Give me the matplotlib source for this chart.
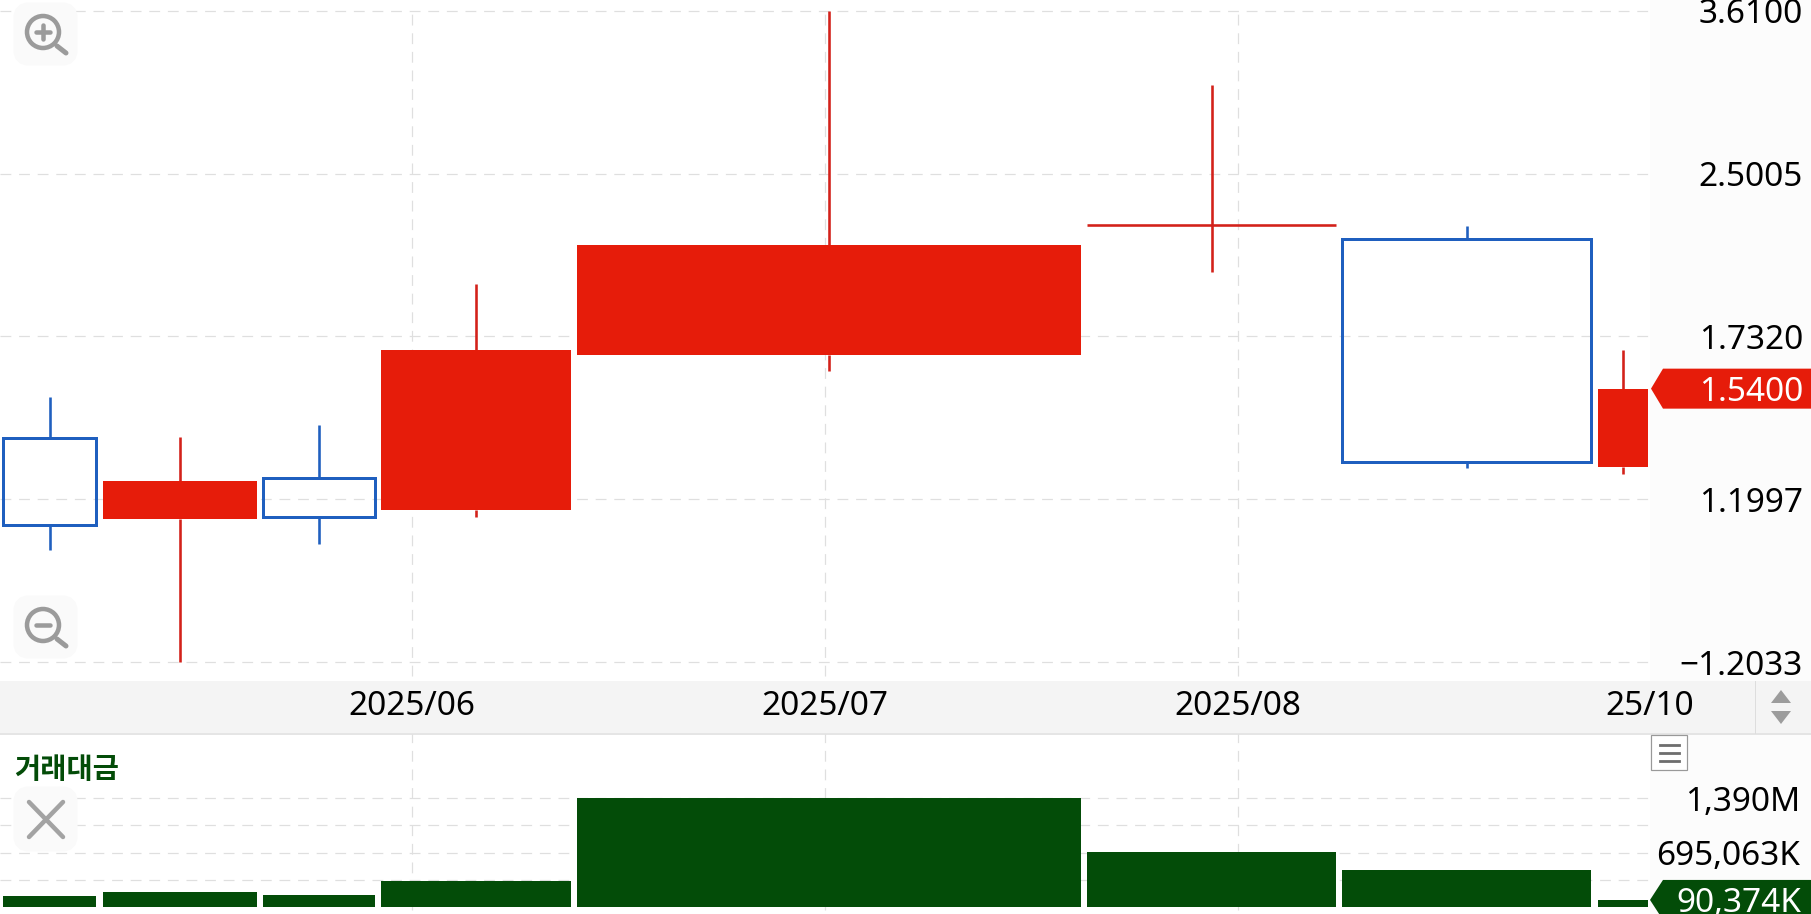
import numpy as np
import matplotlib
matplotlib.use('Agg')
import matplotlib.pyplot as plt
from matplotlib.patches import Circle, FancyBboxPatch, Polygon, Rectangle

plt.rcParams['font.family'] = ['Noto Sans', 'DejaVu Sans']
plt.rcParams['font.weight'] = 'medium'

# candles, x is a running axis where width follows the period traded
x_start = [3, 102.6, 263, 381, 576.5, 1087, 1342, 1597.5]
x_end = [96, 256.8, 374.5, 571.4, 1081, 1336, 1591, 1648]
price_open = [1.3776, 1.1477, 1.2590, 1.171, 1.663, 2.2274, 2.1585, 1.2912]
price_close = [1.133, 1.2506, 1.1541, 1.680, 2.129, 2.2274, 1.305, 1.54]
price_high = [1.511, 1.3795, 1.4187, 1.950, 3.61, 3.052, 2.2205, 1.680]
price_low = [1.070, 0.831, 1.0847, 1.1529, 1.6026, 2.0008, 1.2875, 1.271]
turnover = [140.7, 196, 157, 329, 1390, 697, 477, 90.374]

price_ticks = [3.61, 2.5005, 1.732, 1.1997, 0.831]
price_labels = ['3.6100', '2.5005', '1.7320', '1.1997', '\u22121.2033']
date_ticks = [412, 824.5, 1237.5, 1650]
date_labels = ['2025/06', '2025/07', '2025/08', '25/10']
turnover_ticks = [1390, 1042.5, 695.063, 347.5]
turnover_labels = ['1,390M', '', '695,063K', '']

RED = '#E61C0A'
WICK_RED = '#D3211A'
BLUE = '#1F5FBF'
GREEN = '#034C08'
GRID = '#DFDFDF'
W, H = 1811, 914
PX = 72 / 100  # points per pixel at dpi 100
LABEL_SIZE = 24


def axes_px(left, top, right, bottom):
    return [left / W, 1 - bottom / H, (right - left) / W, (bottom - top) / H]


def tag(ax, tip, shoulder, y, half, color):
    ax.add_patch(Polygon([(tip, y), (shoulder, y - half), (W, y - half), (W, y + half),
                          (shoulder, y + half)], closed=True, fc=color, ec='none', zorder=5))


def magnifier(ax, cx, cy, plus):
    ax.add_patch(FancyBboxPatch((19, cy - 24), 53, 52, boxstyle='round,pad=0,rounding_size=10',
                                fc='#FAFAFA', ec='#FAFAFA', lw=8, zorder=6))
    ax.add_patch(Circle((cx, cy), 16, fc='none', ec='#9B9B9B', lw=4.5 * PX, zorder=7))
    ax.plot([cx - 7, cx + 7], [cy, cy], color='#9B9B9B', lw=4.5 * PX, zorder=7, solid_capstyle='round')
    if plus:
        ax.plot([cx, cx], [cy - 7, cy + 7], color='#9B9B9B', lw=4.5 * PX, zorder=7, solid_capstyle='round')
    ax.plot([cx + 14, cx + 23], [cy + 14, cy + 21], color='#9B9B9B', lw=5 * PX, zorder=7,
            solid_capstyle='round')


fig = plt.figure(figsize=(W / 100, H / 100), dpi=100, facecolor='white')

# chrome underneath the plots
bg = fig.add_axes([0, 0, 1, 1], zorder=0)
bg.set_xlim(0, W)
bg.set_ylim(H, 0)
bg.axis('off')
bg.add_patch(Rectangle((1650, 0), W - 1650, H, fc='#FCFCFC', ec='none'))
bg.add_patch(Rectangle((0, 681), W, 52, fc='#F4F4F4', ec='none'))
bg.plot([0, W], [733.5, 733.5], color='#DDDDDD', lw=1.5 * PX)
bg.plot([0, W], [913.5, 913.5], color='#EEEEEE', lw=1 * PX)
bg.plot([1755, 1755], [681, 733], color='#DDDDDD', lw=1 * PX)

# price pane
ax = fig.add_axes(axes_px(0, 0, 1650, 681), zorder=1)
ax.patch.set_alpha(0)
ax.set_yscale('log')
k = np.log(price_ticks[0] / price_ticks[1]) / 162.75
ax.set_ylim(price_ticks[0] * np.exp(-669.5 * k), price_ticks[0] * np.exp(10.5 * k))
ax.set_xlim(0, 1650)
for s in ax.spines.values():
    s.set_visible(False)

for i in range(len(x_start)):
    mid = (x_start[i] + x_end[i]) / 2
    top = max(price_open[i], price_close[i])
    bot = min(price_open[i], price_close[i])
    up = price_close[i] >= price_open[i]
    wick = WICK_RED if up else BLUE
    ax.vlines(mid, top, price_high[i], color=wick, lw=2.6 * PX, zorder=3)
    ax.vlines(mid, price_low[i], bot, color=wick, lw=2.6 * PX, zorder=3)
    if top == bot:
        ax.hlines(top, x_start[i], x_end[i], color=WICK_RED, lw=2.6 * PX, zorder=3)
    elif up:
        ax.bar(x_start[i], top - bot, bottom=bot, width=x_end[i] - x_start[i], align='edge',
               color=RED, lw=0, zorder=4)
    else:
        ax.bar(x_start[i], top - bot, bottom=bot, width=x_end[i] - x_start[i], align='edge',
               fc='none', ec=BLUE, lw=3 * PX, zorder=4)

ax.yaxis.tick_right()
ax.set_yticks(price_ticks)
ax.set_yticklabels(price_labels)
ax.yaxis.set_minor_locator(matplotlib.ticker.NullLocator())
ax.tick_params(axis='y', length=0, pad=153 * PX, labelsize=LABEL_SIZE, labelcolor='black')
for lab in ax.get_yticklabels():
    lab.set_ha('right')
ax.set_xticks(date_ticks)
ax.set_xticklabels(date_labels)
ax.tick_params(axis='x', length=0, pad=9 * PX, labelsize=LABEL_SIZE, labelcolor='black')
ax.grid(True, axis='y', color=GRID, lw=1.2 * PX, ls=(0, (9, 6.5)), zorder=1)
ax.vlines(date_ticks[:3], price_ticks[-1] * np.exp(-14 * k), price_ticks[0] * np.exp(4 * k),
          color=GRID, lw=1.2 * PX, ls=(0, (9, 6.5)), zorder=1)

# turnover pane
vol = fig.add_axes(axes_px(0, 734, 1650, 911), zorder=1)
vol.patch.set_alpha(0)
m_per_px = turnover[4] / 108.7
vol.set_ylim(-4 * m_per_px, 173 * m_per_px)
vol.set_xlim(0, 1650)
for s in vol.spines.values():
    s.set_visible(False)
vol.bar(x_start, turnover, width=np.array(x_end) - np.array(x_start), align='edge', color=GREEN,
        lw=0, zorder=4)
vol.yaxis.tick_right()
vol.set_yticks(turnover_ticks)
vol.set_yticklabels(turnover_labels)
vol.set_xticks([])
vol.tick_params(axis='y', length=0, pad=150 * PX, labelsize=LABEL_SIZE, labelcolor='black')
for lab in vol.get_yticklabels():
    lab.set_ha('right')
vol.grid(True, axis='y', color=GRID, lw=1.2 * PX, ls=(0, (9, 6.5)), zorder=1)
vol.vlines(date_ticks[:3], -3 * m_per_px, 173 * m_per_px, color=GRID, lw=1.2 * PX,
           ls=(0, (9, 6.5)), zorder=1)

# overlay: tags, icons, buttons
top = fig.add_axes([0, 0, 1, 1], zorder=2)
top.set_xlim(0, W)
top.set_ylim(H, 0)
top.axis('off')
top.patch.set_alpha(0)

close_y = H - ax.transData.transform((0, price_close[-1]))[1]
tag(top, 1651, 1663, close_y, 20, RED)
top.text(1803, close_y, '1.5400', color='white', fontsize=LABEL_SIZE, ha='right', va='center_baseline', zorder=6)

last_y = H - vol.transData.transform((0, turnover[-1]))[1]
tag(top, 1650, 1663, last_y, 20, GREEN)
top.text(1801, last_y, '90,374K', color='white', fontsize=LABEL_SIZE, ha='right', va='center_baseline', zorder=6)

top.text(14, 770, '거래대금', color=GREEN, fontsize=20.5, fontweight='bold', ha='left', va='center',
         family=['Noto Sans CJK KR', 'DejaVu Sans'])

magnifier(top, 43, 32, True)
magnifier(top, 43, 625, False)

top.add_patch(FancyBboxPatch((19, 792), 53, 54, boxstyle='round,pad=0,rounding_size=10',
                             fc='#FAFAFA', ec='#FAFAFA', lw=8, zorder=6))
top.plot([29, 63], [802, 837], color='#A3A3A3', lw=4.5 * PX, zorder=7, solid_capstyle='round')
top.plot([63, 29], [802, 837], color='#A3A3A3', lw=4.5 * PX, zorder=7, solid_capstyle='round')

top.add_patch(Rectangle((1651, 735), 36, 35, fc='white', ec='#999999', lw=1.2 * PX, zorder=6))
for yy in [745, 752.7, 760.7]:
    top.plot([1660, 1679], [yy, yy], color='#6E6E6E', lw=2.8 * PX, zorder=7)

top.add_patch(Polygon([(1771, 703), (1781, 690), (1791, 703)], closed=True, fc='#9C9C9C', ec='none', zorder=6))
top.add_patch(Polygon([(1771, 711), (1791, 711), (1781, 724)], closed=True, fc='#9C9C9C', ec='none', zorder=6))

fig.savefig('out.png', dpi=100)
plt.close()
